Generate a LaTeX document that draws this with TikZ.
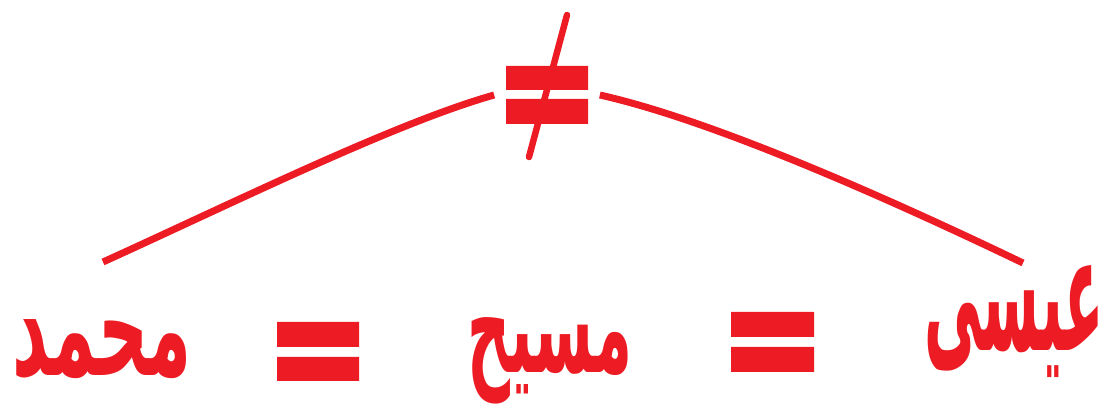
\documentclass[tikz,border=0pt]{standalone}
\usepackage{fontspec}
\usepackage{tikz}
\usetikzlibrary{positioning, calc}
\usepackage{xcolor}
\TeXXeTstate=1
\newfontfamily\arabicfont[Script=Arabic]{DejaVu Sans}
\definecolor{signred}{HTML}{ED1C24}
% word set right to left, stretched to the given size
\newcommand{\nameword}[3]{\resizebox{#1}{#2}{\beginR #3\endR}}

\begin{document}
\begin{tikzpicture}[
    x=0.02cm, y=-0.02cm,
    word/.style={text=signred, inner sep=0pt, font=\arabicfont\bfseries\fontsize{40}{48}\selectfont},
    bar/.style={fill=signred},
    curve/.style={draw=signred, line width=0.14cm},
    slash/.style={draw=signred, line width=0.13cm, line cap=round}
]
    \useasboundingbox (0,0) rectangle (1107,405);

    % Names - bottom row
    \node[word] (muhammad) at (102,349) {\nameword{3.6cm}{1.12cm}{محمد}};
    \node[word] (masih) at (550,361) {\nameword{3.3cm}{1.1cm}{مسیح}};
    \node[word] (isa) at (1014,322) {\nameword{3.6cm}{1.7cm}{عیسی}};

    % Equal signs between the names
    \fill[bar] (277,322) rectangle (359,347) (277,357) rectangle (359,381);
    \fill[bar] (731,312) rectangle (814,337) (731,347) rectangle (814,372);

    % Not-equal sign on top
    \node[minimum width=2.1cm, minimum height=1.2cm, inner sep=0pt] (neq) at (547,95) {};
    \fill[bar] (506,66) rectangle (588,90) (506,99) rectangle (588,124);
    \draw[slash] (567,15) -- (529,157);

    % Arcs from the outer names up to the sign
    \coordinate (left end) at (103,262);
    \coordinate (right end) at (1023,263);
    \draw[curve] (left end) .. controls (233,203) and (395,123) .. (neq.west);
    \draw[curve] (neq.east) .. controls (707,119) and (873,191) .. (right end);
\end{tikzpicture}
\end{document}
